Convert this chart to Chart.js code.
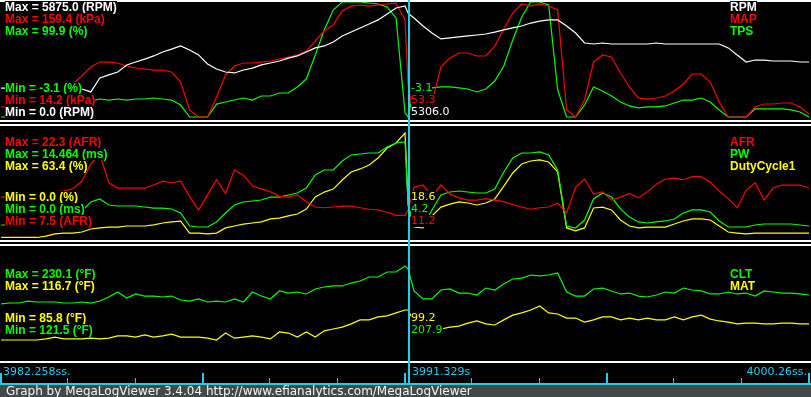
<!DOCTYPE html>
<html lang="en">
<head>
<meta charset="UTF-8">
<title>MegaLogViewer graph</title>
<style>
    body {
        margin: 0;
        background: #000;
    }

    #wrap {
        position: relative;
        width: 811px;
        height: 397px;
        background: #000;
        overflow: hidden;
    }

    #graph {
        position: absolute;
        left: 0;
        top: 0;
    }

    .lbl {
        position: absolute;
        font: bold 12px "Liberation Sans", Arial, sans-serif;
        line-height: 12px;
        white-space: nowrap;
        background: #000;
    }

    .val {
        font: 11px "DejaVu Sans", sans-serif;
        line-height: 12px;
    }

    .axis {
        position: absolute;
        font: 11px "DejaVu Sans", sans-serif;
        line-height: 12px;
        white-space: nowrap;
        color: #1ccfee;
    }

    #footer {
        position: absolute;
        left: 6px;
        top: 385px;
        font: 12px "DejaVu Sans", sans-serif;
        line-height: 12px;
        color: #f4f4f4;
        white-space: nowrap;
    }
</style>
</head>
<body>
<div id="wrap">
    <canvas id="graph" width="811" height="397"></canvas>
    <div id="footer">Graph by MegaLogViewer 3.4.04 http://www.efianalytics.com/MegaLogViewer</div>
</div>

<script src="https://cdn.jsdelivr.net/npm/chart.js"></script>
<script>
    // log time (s)
    const times = [
        3982.26, 3982.46, 3982.66, 3982.86, 3983.06, 3983.26, 3983.46, 3983.66, 3983.86, 3984.06,
        3984.26, 3984.46, 3984.66, 3984.86, 3985.06, 3985.26, 3985.46, 3985.66, 3985.86, 3986.06,
        3986.26, 3986.46, 3986.66, 3986.86, 3987.06, 3987.26, 3987.46, 3987.66, 3987.86, 3988.06,
        3988.26, 3988.46, 3988.66, 3988.86, 3989.06, 3989.26, 3989.46, 3989.66, 3989.86, 3990.06,
        3990.26, 3990.46, 3990.66, 3990.86, 3991.06, 3991.26, 3991.329, 3991.46, 3991.66, 3991.86,
        3992.06, 3992.26, 3992.46, 3992.66, 3992.86, 3993.06, 3993.26, 3993.46, 3993.66, 3993.86,
        3994.06, 3994.26, 3994.46, 3994.66, 3994.86, 3995.06, 3995.26, 3995.46, 3995.66, 3995.86,
        3996.06, 3996.26, 3996.46, 3996.66, 3996.86, 3997.06, 3997.26, 3997.46, 3997.66, 3997.86,
        3998.06, 3998.26, 3998.46, 3998.66, 3998.86, 3999.06, 3999.26, 3999.46, 3999.66, 3999.86,
        4000.06, 4000.26
    ];

    const rpm = [
        1480, 1480, 1480, 1480, 1480, 1480, 1430, 1430, 1430, 1430,
        1280, 1990, 2150, 2300, 2660, 2810, 2960, 3120, 3320, 3470,
        3630, 3420, 3170, 2710, 2450, 2300, 2250, 2400, 2500, 2660,
        2760, 2860, 3010, 3120, 3320, 3530, 3630, 3830, 4140, 4340,
        4550, 4750, 4960, 5260, 5570, 5670, 5306, 5060, 4650, 4290,
        3990, 4040, 4090, 4140, 4190, 4240, 4340, 4450, 4550, 4650,
        4800, 4900, 4960, 4960, 4650, 4290, 3780, 3730, 3780, 3730,
        3730, 3730, 3730, 3730, 3780, 3730, 3730, 3730, 3730, 3730,
        3730, 3730, 3530, 3170, 2810, 2910, 2910, 2860, 2860, 2860,
        2810, 2810
    ];

    const map = [
        26.8, 26.8, 30.6, 34.4, 38.2, 42.0, 45.8, 50.8, 55.9, 66.0,
        77.3, 83.6, 83.6, 82.4, 78.6, 76.1, 74.8, 73.5, 73.5, 71.0,
        58.4, 23.0, 14.2, 14.2, 39.5, 67.2, 78.6, 82.4, 82.4, 83.6,
        84.9, 87.4, 90.0, 92.5, 97.5, 110.2, 122.8, 130.4, 148.0, 154.3,
        155.6, 154.3, 155.6, 156.9, 158.1, 136.7, 53.3, 14.2, 14.2, 33.1,
        77.3, 88.7, 95.0, 95.0, 91.2, 91.2, 103.8, 125.3, 145.5, 156.9,
        154.3, 156.9, 154.3, 149.3, 23.0, 14.2, 35.7, 83.6, 92.5, 90.0,
        69.8, 52.1, 38.2, 36.9, 38.2, 40.7, 47.0, 55.9, 68.5, 68.5,
        58.4, 33.1, 14.2, 14.2, 14.2, 26.8, 30.6, 30.6, 31.9, 31.9,
        26.8, 18.0
    ];

    const tps = [
        -3.1, -3.1, -3.1, -3.1, -2.2, 1.4, 5.0, 5.9, 5.9, 6.8,
        11.2, 13.0, 12.1, 13.0, 12.1, 13.0, 13.0, 13.9, 13.0, 12.1,
        7.6, -3.1, -3.1, -3.1, 8.5, 10.3, 12.1, 13.9, 12.1, 15.7,
        15.7, 18.4, 18.4, 23.8, 30.9, 52.4, 74.8, 92.7, 99.9, 99.9,
        99.9, 99.0, 98.1, 95.4, 85.6, 0.5, -3.1, 22.9, 22.9, 22.9,
        23.8, 23.8, 22.9, 22.0, 19.3, 22.0, 29.1, 42.6, 65.9, 86.5,
        99.9, 99.9, 97.2, 21.1, -3.1, -3.1, 7.6, 23.8, 20.2, 15.7,
        10.3, 6.8, 5.0, 5.9, 5.9, 6.8, 9.4, 12.1, 12.1, 13.9,
        10.3, 3.2, -3.1, -3.1, -3.1, 4.1, 4.1, 4.1, 4.1, 3.2,
        1.4, -3.1
    ];

    const afr = [
        12.9, 12.9, 13.0, 13.2, 13.3, 13.4, 13.6, 13.7, 14.0, 15.0,
        17.3, 18.6, 14.8, 14.1, 14.1, 14.1, 14.1, 14.5, 15.0, 14.8,
        15.0, 13.0, 11.2, 13.2, 15.2, 13.4, 16.5, 15.8, 14.4, 14.0,
        13.6, 13.0, 12.9, 13.2, 12.3, 11.6, 11.5, 11.6, 11.7, 11.7,
        11.5, 11.3, 11.2, 10.9, 10.5, 10.5, 11.2, 14.2, 14.5, 13.0,
        14.5, 13.3, 12.8, 12.5, 12.5, 12.7, 12.5, 12.3, 11.9, 11.6,
        11.3, 11.5, 11.6, 12.1, 10.8, 14.2, 15.3, 13.3, 13.6, 12.5,
        12.9, 13.4, 12.8, 13.6, 14.6, 15.3, 15.4, 15.2, 15.6, 15.6,
        14.9, 13.7, 12.7, 11.5, 13.8, 14.8, 12.5, 14.1, 14.5, 14.5,
        14.5, 14.1
    ];

    const pw = [
        1.68, 1.68, 1.68, 1.68, 1.68, 2.07, 2.84, 2.97, 3.10, 3.49,
        4.65, 5.04, 4.26, 4.13, 4.13, 4.13, 4.00, 3.87, 3.87, 3.75,
        3.23, 1.55, 1.42, 1.42, 2.07, 3.23, 4.26, 4.65, 4.78, 4.91,
        5.29, 5.29, 5.55, 5.81, 6.46, 8.14, 8.78, 8.78, 9.94, 10.72,
        10.85, 10.98, 10.98, 11.75, 12.27, 12.40, 4.2, 1.68, 1.42, 3.62,
        5.55, 5.94, 6.07, 5.94, 5.81, 5.81, 6.33, 8.52, 10.33, 10.98,
        10.98, 11.11, 10.72, 8.78, 1.55, 1.29, 2.32, 5.04, 5.81, 5.29,
        3.75, 2.71, 2.07, 1.94, 2.07, 2.20, 2.45, 3.23, 3.62, 3.62,
        3.36, 2.20, 1.42, 1.42, 1.42, 1.68, 1.81, 1.81, 1.81, 1.81,
        1.68, 1.55
    ];

    const duty = [
        0.3, 0.3, 0.3, 0.3, 0.3, 1.1, 2.3, 2.8, 2.8, 3.4,
        5.1, 5.7, 6.2, 6.2, 6.8, 6.8, 6.8, 7.4, 8.5, 9.1,
        9.6, 2.8, 2.8, 2.3, 2.8, 5.7, 6.8, 7.9, 8.5, 9.1,
        10.8, 11.3, 12.5, 13.6, 16.4, 23.2, 26.0, 27.7, 32.8, 37.4,
        39.1, 41.3, 45.3, 50.9, 53.8, 59.4, 18.6, 6.2, 5.7, 12.5,
        17.5, 19.2, 20.4, 19.8, 18.7, 19.8, 22.1, 29.4, 36.8, 41.9,
        43.6, 44.2, 43.0, 37.4, 5.7, 4.0, 5.7, 17.0, 17.5, 15.9,
        10.2, 6.8, 5.7, 6.2, 6.2, 6.2, 7.9, 9.6, 10.8, 10.8,
        10.2, 6.8, 3.4, 2.8, 2.3, 2.8, 2.8, 2.8, 2.8, 2.8,
        2.8, 2.8
    ];

    const clt = [
        174.4, 175.3, 175.3, 177.2, 176.3, 176.3, 176.3, 175.3, 175.3, 176.3,
        175.3, 177.2, 181.1, 185.9, 180.1, 184.0, 182.0, 182.0, 181.1, 182.0,
        178.2, 177.2, 179.2, 176.3, 177.2, 176.3, 179.2, 176.3, 185.9, 182.0,
        179.2, 186.9, 184.9, 185.9, 184.0, 188.8, 190.7, 191.7, 191.7, 194.5,
        196.5, 200.3, 200.3, 205.1, 205.1, 210.9, 207.9, 186.9, 179.2, 179.2,
        187.8, 188.8, 184.9, 184.9, 183.0, 189.7, 187.8, 193.6, 198.4, 199.3,
        202.2, 201.3, 202.2, 204.2, 185.9, 182.0, 182.0, 188.8, 189.7, 186.9,
        184.0, 184.9, 182.0, 181.1, 183.0, 185.9, 184.9, 189.7, 187.8, 186.9,
        184.0, 184.0, 185.9, 184.0, 184.9, 182.0, 186.9, 185.9, 184.9, 184.9,
        184.0, 183.0
    ];

    const mat = [
        91.0, 91.0, 91.0, 91.0, 91.0, 91.3, 91.8, 91.3, 91.3, 91.3,
        91.5, 91.3, 91.5, 92.1, 92.1, 91.8, 92.4, 91.8, 92.1, 92.6,
        91.8, 91.8, 91.8, 91.5, 91.0, 92.9, 91.5, 91.8, 92.1, 91.8,
        91.3, 93.2, 92.9, 91.8, 93.2, 91.8, 93.5, 94.0, 94.5, 95.4,
        96.5, 96.5, 97.3, 97.6, 98.4, 99.2, 99.2, 95.9, 94.5, 94.0,
        94.0, 94.5, 94.8, 95.6, 96.2, 95.4, 95.1, 96.5, 97.8, 98.4,
        99.2, 100.3, 98.4, 98.1, 97.0, 97.0, 95.9, 96.5, 97.3, 97.3,
        96.5, 97.0, 96.5, 97.0, 96.5, 96.5, 97.3, 96.5, 97.3, 97.8,
        96.7, 96.2, 95.9, 95.4, 95.6, 95.6, 95.4, 95.4, 95.6, 95.6,
        95.4, 95.4
    ];

    const traceNames = ['RPM', 'MAP', 'TPS', 'AFR', 'PW', 'DutyCycle1', 'CLT', 'MAT'];
    const traceUnits = ['RPM', 'kPa', '%', 'AFR', 'ms', '%', '°F', '°F'];
    const traceMax = [5875.0, 159.4, 99.9, 22.3, 14.464, 63.4, 230.1, 116.7];
    const traceMin = [0.0, 14.2, -3.1, 7.5, 0.0, 0.0, 121.5, 85.8];

    const startTime = 3982.258;
    const endTime = 4000.26;
    const cursorTime = 3991.329;
    const majorTicks = [3982.258, 3986.758, 3991.258, 3995.758, 4000.258];
    const minorTicks = [3983.758, 3985.258, 3988.258, 3989.758, 3992.758, 3994.258, 3997.258, 3998.758];

    const series = [rpm, map, tps, afr, pw, duty, clt, mat];
    const colors = ['#ffffff', '#ff0000', '#00ff00', '#ff0000', '#00ff00', '#ffff00', '#00ff00', '#ffff00'];
    const cyan = '#1ccfee';

    // pixel band of each panel and where its text rows sit
    const panels = [
        { band: [2, 117], maxTop: 1, minTop: 82, traces: [0, 1, 2] },
        { band: [126, 238], maxTop: 136, minTop: 191, traces: [3, 4, 5] },
        { band: [246, 359], maxTop: 268, minTop: 312, traces: [6, 7] }
    ];
    const H = 397;
    const rowGap = 12;

    const scales = {
        x: { type: 'linear', display: false, min: startTime, max: endTime }
    };
    panels.forEach(p => {
        p.traces.forEach(i => {
            const s = (traceMax[i] - traceMin[i]) / (p.band[1] - p.band[0]);
            scales['y' + i] = {
                type: 'linear',
                display: false,
                min: traceMin[i] - (H - p.band[1]) * s,
                max: traceMax[i] + p.band[0] * s
            };
        });
    });

    const datasets = series.map((vals, i) => ({
        label: traceNames[i],
        data: vals.map((v, j) => ({ x: times[j], y: v })),
        yAxisID: 'y' + i,
        borderColor: colors[i],
        borderWidth: 1.2,
        pointRadius: 0,
        tension: 0,
        fill: false
    }));

    const frame = {
        id: 'frame',
        afterDatasetsDraw(chart) {
            const ctx = chart.ctx;
            const xs = chart.scales.x;
            ctx.save();
            ctx.fillStyle = '#ffffff';
            [0, 120, 124, 240, 244, 361].forEach(y => ctx.fillRect(0, y, 811, 2));
            ctx.fillStyle = cyan;
            ctx.fillRect(0, 383, 811, 2);
            majorTicks.forEach(t => ctx.fillRect(Math.round(xs.getPixelForValue(t)) - 1, 373, 2, 11));
            minorTicks.forEach(t => ctx.fillRect(Math.round(xs.getPixelForValue(t)) - 1, 378, 1, 6));
            ctx.fillRect(Math.round(xs.getPixelForValue(cursorTime)), 0, 2, 384);
            ctx.fillStyle = '#474747';
            ctx.fillRect(0, 385, 811, 12);
            ctx.restore();
        }
    };

    const chart = new Chart(document.getElementById('graph'), {
        type: 'line',
        data: { datasets: datasets },
        options: {
            responsive: false,
            animation: false,
            devicePixelRatio: 1,
            layout: { padding: { left: 1, right: 2, top: 0, bottom: 0 } },
            plugins: { legend: { display: false }, tooltip: { enabled: false } },
            scales: scales
        },
        plugins: [frame]
    });

    const wrap = document.getElementById('wrap');
    function addText(text, left, top, color, cls) {
        const d = document.createElement('div');
        d.className = cls;
        d.textContent = text;
        d.style.left = left + 'px';
        d.style.top = top + 'px';
        d.style.color = color;
        wrap.appendChild(d);
        return d;
    }
    function fmt(v) {
        return Number.isInteger(v) ? v.toFixed(1) : String(v);
    }

    const cursorIdx = times.indexOf(cursorTime);
    const cursorX = Math.round(chart.scales.x.getPixelForValue(cursorTime));

    panels.forEach(p => {
        p.traces.forEach((i, j) => {
            addText('Max = ' + fmt(traceMax[i]) + ' (' + traceUnits[i] + ')', 5, p.maxTop + rowGap * j, colors[i], 'lbl');
            addText(traceNames[i], 730, p.maxTop + rowGap * j, colors[i], 'lbl');
        });
        p.traces.slice().reverse().forEach((i, j) => {
            addText('Min = ' + fmt(traceMin[i]) + ' (' + traceUnits[i] + ')', 5, p.minTop + rowGap * j, colors[i], 'lbl');
            addText(series[i][cursorIdx].toFixed(1), cursorX + 3, p.minTop + rowGap * j, colors[i], 'lbl val');
        });
    });

    addText(startTime + 'ss.', 3, 366, cyan, 'axis');
    addText(cursorTime + 's', cursorX + 4, 366, cyan, 'axis');
    const endLbl = addText(endTime + 'ss.', 0, 366, cyan, 'axis');
    endLbl.style.left = '';
    endLbl.style.right = '4px';
</script>
</body>
</html>
